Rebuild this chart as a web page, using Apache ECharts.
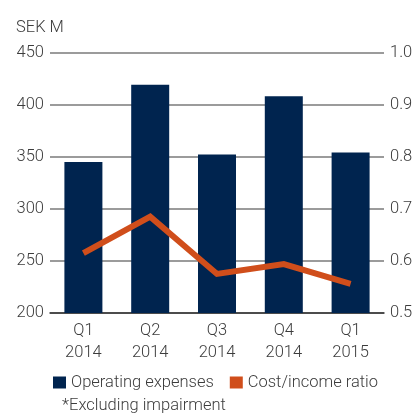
<!DOCTYPE html>
<html>
<head>
<meta charset="utf-8">
<script src="https://cdn.jsdelivr.net/npm/echarts@6/dist/echarts.min.js"></script>
<style>
  html, body { margin: 0; padding: 0; background: #fff; }
  #chart { width: 418px; height: 415px; }
</style>
</head>
<body>
<div id="chart"></div>
<script>
const quarters = ['Q1\n2014', 'Q2\n2014', 'Q3\n2014', 'Q4\n2014', 'Q1\n2015'];
const operatingExpenses = [345, 419, 352, 408, 354];
const costIncomeRatio = [0.615, 0.685, 0.575, 0.594, 0.556];
const unitLabel = 'SEK M';
const footnote = '*Excluding impairment';

const font = 'Roboto';
const fontSize = 16.5;
const textColor = '#3c3c3c';
const navy = '#00244f';
const orange = '#d04e1b';

const chart = echarts.init(document.getElementById('chart'));

chart.setOption({
  animation: false,
  textStyle: { fontFamily: font, fontWeight: 300 },
  grid: { left: 50, right: 34, top: 52.5, bottom: 102 },
  legend: {
    left: 48,
    top: 369,
    itemWidth: 13,
    itemHeight: 12,
    itemGap: 16,
    icon: 'rect',
    textStyle: { fontFamily: font, fontWeight: 300, fontSize: fontSize, color: textColor },
    data: ['Operating expenses', 'Cost/income ratio']
  },
  graphic: [
    {
      type: 'text',
      left: 16,
      top: 19,
      style: { text: unitLabel, font: '300 ' + fontSize + 'px ' + font, fill: textColor }
    },
    {
      type: 'text',
      left: 62,
      top: 397,
      style: { text: footnote, font: '300 ' + fontSize + 'px ' + font, fill: textColor }
    }
  ],
  xAxis: {
    type: 'category',
    data: quarters,
    axisTick: { show: false },
    axisLine: { lineStyle: { color: '#333', width: 1.5 } },
    axisLabel: {
      margin: 7,
      fontSize: fontSize,
      lineHeight: 22,
      color: textColor,
      fontFamily: font,
      fontWeight: 300
    }
  },
  yAxis: [
    {
      type: 'value',
      min: 200,
      max: 450,
      interval: 50,
      axisLine: { show: false },
      axisTick: { show: false },
      splitLine: { lineStyle: { color: '#7a7a7a', width: 1.5 } },
      axisLabel: { margin: 6, fontSize: fontSize, color: textColor, fontFamily: font, fontWeight: 300 }
    },
    {
      type: 'value',
      min: 0.5,
      max: 1.0,
      interval: 0.1,
      axisLine: { show: false },
      axisTick: { show: false },
      splitLine: { show: false },
      axisLabel: {
        margin: 6,
        fontSize: fontSize,
        color: textColor,
        fontFamily: font,
        fontWeight: 300,
        formatter: (v) => v.toFixed(1)
      }
    }
  ],
  series: [
    {
      name: 'Operating expenses',
      type: 'bar',
      barWidth: 38,
      itemStyle: { color: navy },
      data: operatingExpenses
    },
    {
      name: 'Cost/income ratio',
      type: 'line',
      yAxisIndex: 1,
      showSymbol: false,
      symbol: 'none',
      itemStyle: { color: orange },
      lineStyle: { color: orange, width: 6, join: 'miter', cap: 'butt' },
      data: costIncomeRatio
    }
  ]
});
</script>
</body>
</html>
